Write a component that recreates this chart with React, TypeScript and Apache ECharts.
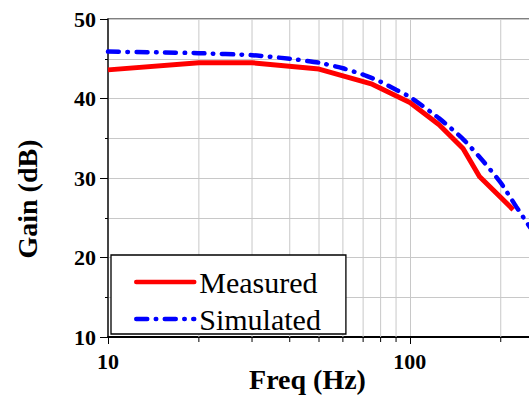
import React, { useEffect, useRef } from 'react';
import * as echarts from 'echarts';

const measuredFreq = [10, 20, 30, 50, 75, 100, 125, 150, 170, 220];
const measuredGain = [43.6, 44.5, 44.5, 43.7, 41.8, 39.5, 36.7, 33.7, 30.2, 26.0];
const simulatedFreq = [10, 15, 20, 30, 40, 50, 60, 70, 80, 90, 100, 125, 150, 175, 200, 225, 250];
const simulatedGain = [45.9, 45.8, 45.7, 45.45, 45.0, 44.5, 43.8, 43.0, 42.1, 41.1, 40.2, 37.5, 34.9, 32.1, 29.4, 26.4, 23.8];
const minorFreqs = [20, 30, 40, 50, 60, 70, 80, 90, 200];
const X_MIN = 10;
const X_MAX = 250;
const Y_MIN = 10;
const Y_MAX = 50;
const Y_STEP = 10;

const FONT = "'Liberation Serif', 'Times New Roman', serif";

export default function App() {
  const ref = useRef<HTMLDivElement>(null);
  useEffect(() => {
    if (!ref.current) return;
    const chart = echarts.init(ref.current, undefined, { renderer: 'svg' });
    const dash = [11, 8.5, 0.5, 8.5];
    chart.setOption({
      animation: false,
      backgroundColor: '#fff',
      grid: {
        left: 108,
        top: 19,
        right: -1,
        bottom: 59,
        containLabel: false,
        outerBoundsMode: 'none',
        show: true,
        borderColor: '#000',
        borderWidth: 1,
      },
      legend: {
        orient: 'vertical',
        left: 111,
        top: 255,
        backgroundColor: '#fff',
        borderColor: '#000',
        borderWidth: 1.3,
        borderRadius: 0,
        padding: [12, 25, 0, 23],
        itemGap: 7,
        itemWidth: 58,
        itemHeight: 30,
        textStyle: { fontFamily: FONT, fontSize: 30, color: '#000' },
        data: [
          {
            name: 'Measured',
            itemStyle: { opacity: 0 },
            lineStyle: { width: 4.5, color: '#ff0000', cap: 'round' },
          },
          {
            name: 'Simulated',
            itemStyle: { opacity: 0 },
            lineStyle: { width: 4.5, color: '#0000ff', type: dash, cap: 'round' },
          },
        ],
      },
      xAxis: {
        type: 'log',
        logBase: 10,
        min: X_MIN,
        max: X_MAX,
        name: 'Freq (Hz)',
        nameLocation: 'middle',
        nameGap: 28,
        nameMoveOverlap: false,
        nameTextStyle: {
          fontFamily: FONT,
          fontSize: 28,
          fontWeight: 'bold',
          color: '#000',
          padding: [0, 23, 0, 0],
        },
        axisLine: { show: true, onZero: false, lineStyle: { color: '#000', width: 2 } },
        axisTick: { show: true, inside: false, length: 7, lineStyle: { color: '#000', width: 1 } },
        axisLabel: {
          margin: 13,
          fontFamily: FONT,
          fontSize: 22,
          fontWeight: 'bold',
          color: '#000',
          formatter: (v: number) => {
            const l = Math.log10(v);
            return Math.abs(l - Math.round(l)) < 1e-6 ? String(Math.round(v)) : '';
          },
        },
        splitLine: { show: true, lineStyle: { color: '#c8c8c8', width: 1 } },
      },
      yAxis: {
        type: 'value',
        min: Y_MIN,
        max: Y_MAX,
        interval: Y_STEP,
        name: 'Gain (dB)',
        nameLocation: 'middle',
        nameGap: 67,
        nameMoveOverlap: false,
        nameTextStyle: {
          fontFamily: FONT,
          fontSize: 28,
          fontWeight: 'bold',
          color: '#000',
          padding: [0, 42, 0, 0],
        },
        axisLine: { show: true, lineStyle: { color: '#444', width: 2 } },
        axisTick: { show: true, inside: false, length: 8, lineStyle: { color: '#000', width: 1 } },
        minorTick: { show: true, splitNumber: 2, length: 3, lineStyle: { color: '#000', width: 1 } },
        axisLabel: { margin: 12, fontFamily: FONT, fontSize: 22, fontWeight: 'bold', color: '#000' },
        splitLine: { show: true, lineStyle: { color: '#c8c8c8', width: 1 } },
        minorSplitLine: { show: true, lineStyle: { color: '#c8c8c8', width: 1 } },
      },
      series: [
        {
          type: 'custom',
          name: 'grid',
          z: 1,
          silent: true,
          clip: false,
          data: minorFreqs.map((f) => [f, Y_MIN]),
          renderItem: (params: any, api: any) => {
            const f = api.value(0);
            const top = api.coord([f, Y_MAX]);
            const bot = api.coord([f, Y_MIN]);
            return {
              type: 'group',
              children: [
                {
                  type: 'line',
                  shape: { x1: top[0], y1: top[1], x2: bot[0], y2: bot[1] },
                  style: { stroke: '#c8c8c8', lineWidth: 1 },
                },
                {
                  type: 'line',
                  shape: { x1: bot[0], y1: bot[1], x2: bot[0], y2: bot[1] + 5 },
                  style: { stroke: '#000', lineWidth: 1 },
                },
              ],
            };
          },
        },
        {
          type: 'line',
          name: 'Measured',
          z: 3,
          symbol: 'none',
          data: measuredFreq.map((f, i) => [f, measuredGain[i]]),
          lineStyle: { color: '#ff0000', width: 5, join: 'round' },
          itemStyle: { color: '#ff0000' },
        },
        {
          type: 'line',
          name: 'Simulated',
          z: 4,
          symbol: 'none',
          smooth: 0.2,
          data: simulatedFreq.map((f, i) => [f, simulatedGain[i]]),
          lineStyle: { color: '#0000ff', width: 4.5, type: dash, cap: 'round' },
          itemStyle: { color: '#0000ff' },
        },
      ],
    });
    return () => chart.dispose();
  }, []);
  return (
    <div
      ref={ref}
      style={{ position: 'fixed', left: 0, top: 0, width: 529, height: 396 }}
    />
  );
}
